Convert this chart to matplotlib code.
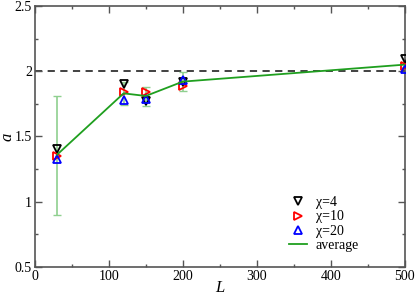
import matplotlib
matplotlib.use("Agg")
import matplotlib.pyplot as plt
from matplotlib.ticker import MultipleLocator

L = [30, 120, 150, 200, 500]
a_chi4 = [1.40, 1.90, 1.77, 1.92, 2.09]
a_chi10 = [1.35, 1.84, 1.84, 1.89, 2.04]
a_chi20 = [1.33, 1.78, 1.79, 1.93, 2.02]
a_avg = [1.36, 1.83, 1.81, 1.92, 2.05]
err_lo = [0.90, 1.74, 1.73, 1.85, 2.03]
err_hi = [1.81, 1.92, 1.88, 1.99, 2.07]

plt.rcParams['font.family'] = ['Liberation Serif', 'DejaVu Serif']

fig = plt.figure(figsize=(4.15, 2.95), dpi=100)
ax = fig.add_axes([0.084, 0.095, 0.891, 0.885])

yerr = [[m - lo for m, lo in zip(a_avg, err_lo)],
        [hi - m for m, hi in zip(a_avg, err_hi)]]
ax.errorbar(L, a_avg, yerr=yerr, fmt='none', ecolor='#8fd08f',
            elinewidth=1.2, capsize=3, capthick=1.0, zorder=2)

ax.axhline(2.0, color='#333333', lw=1.3, ls=(0, (4, 3)), zorder=1)

ms = 6
ax.plot(L, a_chi4, ls='none', marker='v', ms=ms, mfc='none', mec='black',
        mew=1.3, label='χ=4', zorder=3)
ax.plot(L, a_chi10, ls='none', marker='>', ms=ms, mfc='none', mec='red',
        mew=1.3, label='χ=10', zorder=3)
ax.plot(L, a_chi20, ls='none', marker='^', ms=ms, mfc='none', mec='blue',
        mew=1.3, label='χ=20', zorder=3)
ax.plot(L, a_avg, color='#1f9f1f', lw=1.3, label='average', zorder=4)

ax.set_xlim(0, 500)
ax.set_ylim(0.5, 2.5)
ax.xaxis.set_major_locator(MultipleLocator(100))
ax.xaxis.set_minor_locator(MultipleLocator(50))
ax.yaxis.set_major_locator(MultipleLocator(0.5))
ax.yaxis.set_minor_locator(MultipleLocator(0.25))
ax.yaxis.set_major_formatter(plt.FuncFormatter(lambda v, p: f'{v:g}'))
ax.tick_params(which='both', direction='in', top=True, right=True,
               labelsize=10, color='#555555', pad=2)
ax.tick_params(which='major', length=5, width=1)
ax.tick_params(which='minor', length=2.5, width=1)
for s in ax.spines.values():
    s.set_color('#555555')
    s.set_linewidth(1.2)

ax.set_xlabel('L', fontstyle='italic', fontsize=12, labelpad=-2)
ax.set_ylabel('a', fontstyle='italic', fontsize=12, labelpad=-0.5)

ax.legend(loc='lower right', bbox_to_anchor=(0.895, 0.03), frameon=False,
          fontsize=10, handlelength=1.3, handletextpad=0.6, labelspacing=0.1,
          borderpad=0, markerscale=0.85)

fig.savefig('out.png', dpi=100)
